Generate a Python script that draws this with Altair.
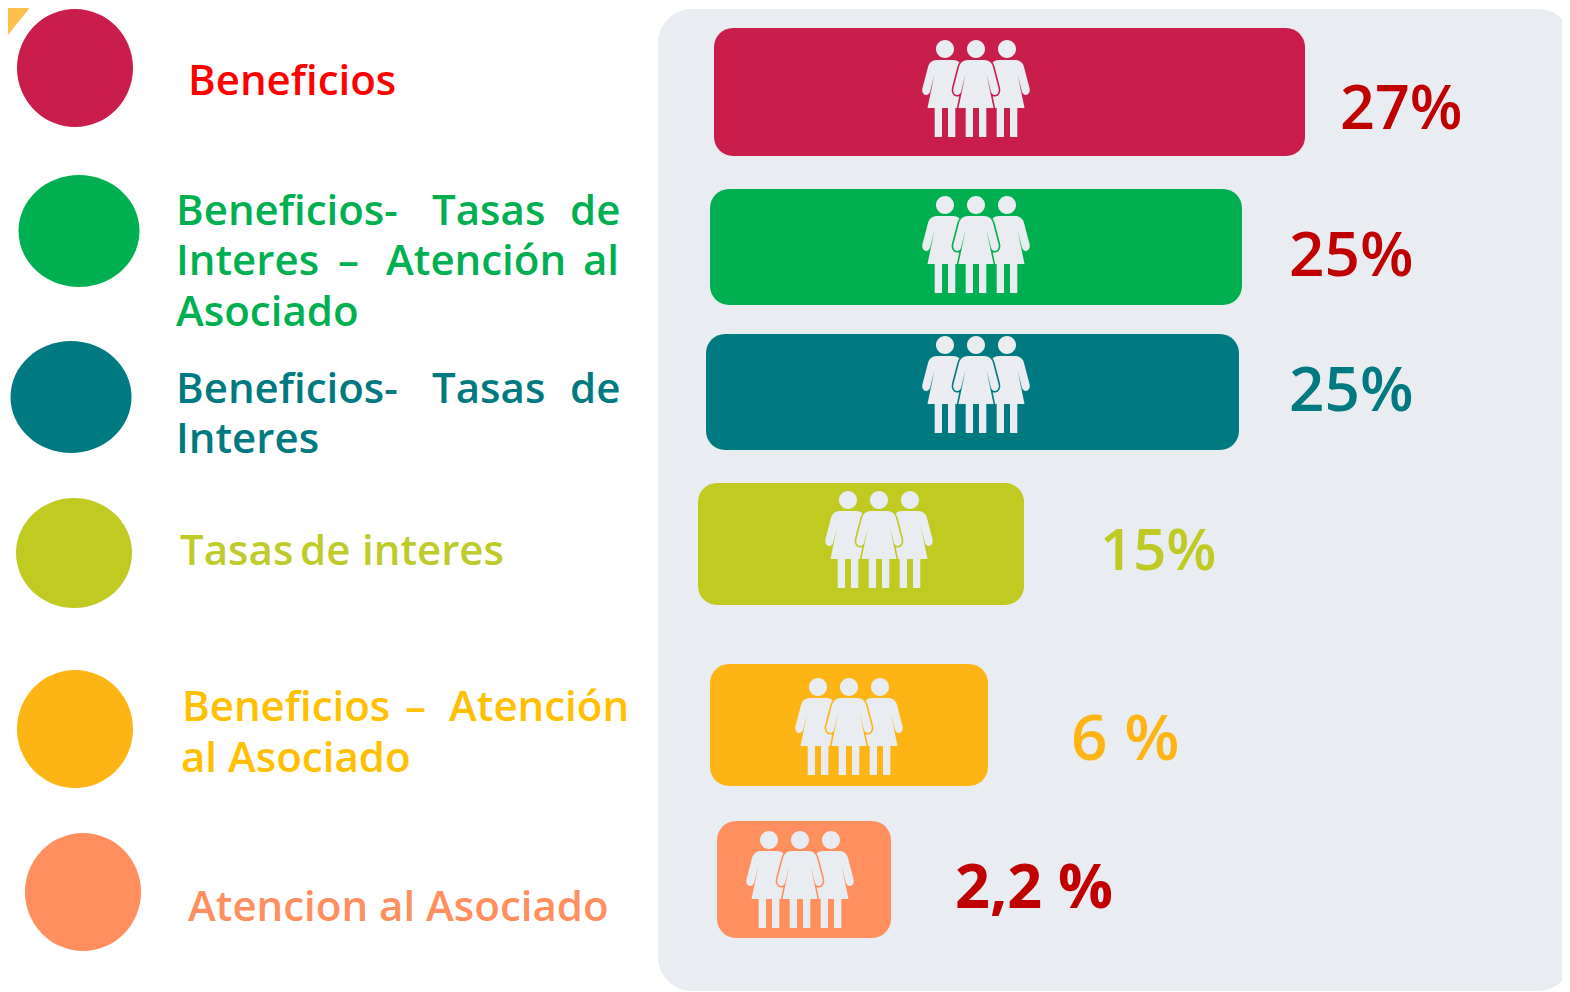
import altair as alt
import pandas as pd

# categories and read-off values
categories = ["Beneficios", "Ben-Tas-Ate", "Ben-Tas", "Tasas", "Ben-Ate", "Ate"]
bar_start = [714, 710, 706, 698, 710, 717]
bar_end = [1305, 1242, 1239, 1024, 988, 891]
bar_top = [28, 189, 334, 483, 664, 821]
bar_bottom = [156, 305, 450, 605, 786, 938]
icon_x = [976, 976, 976, 879, 849, 800]
icon_y = [89, 245, 385, 540, 727, 880]
colors = ["#C91D4B", "#00B050", "#007A80", "#C0CA20", "#FDB515", "#FF8F5E"]

dot_x = [75, 79, 71, 74, 75, 83]
dot_y = [68, 231, 397, 553, 729, 892]
dot_w = [116, 121, 121, 116, 116, 116]
dot_h = [118, 112, 112, 110, 118, 118]

value_labels = ["27%", "25%", "25%", "15%", "6 %", "2,2 %"]
value_x = [1340, 1289, 1289, 1100, 1071, 955]
value_y = [129, 276, 411, 570, 760, 908]
value_sizes = [61, 62, 62, 58, 64, 61]
value_colors = ["#C00000", "#C00000", "#007A80", "#BFCA25", "#FDB515", "#C00000"]

words = ["Beneficios", "Beneficios-", "Tasas", "de", "Interes", "\u2013", "Atención", "al", "Asociado",
         "Beneficios-", "Tasas", "de", "Interes", "Tasas", "de", "interes",
         "Beneficios", "\u2013", "Atención", "al Asociado", "Atencion al Asociado"]
word_x = [188, 176, 432, 570, 176, 338, 386, 583, 176,
          176, 432, 570, 176, 180, 300, 362,
          182, 405, 449, 181, 188]
word_y = [95, 225, 225, 225, 275, 275, 275, 275, 326,
          403, 403, 403, 453, 565, 565, 565,
          721, 721, 721, 772, 921]
word_colors = ["#FF0000"] + ["#00B050"] * 8 + ["#007A80"] * 4 + ["#BFCB2A"] * 3 + ["#FFC000"] * 4 + ["#FF8F5E"]

PANEL = "#E9EDF1"
X = alt.Scale(domain=[8, 1562], nice=False, zero=False)
Y = alt.Scale(domain=[8, 992], nice=False, zero=False, reverse=True)
xq = lambda f: alt.X(f, type="quantitative", scale=X, axis=None)
yq = lambda f: alt.Y(f, type="quantitative", scale=Y, axis=None)
cat_color = alt.Scale(domain=categories, range=colors)

HEAD = "M-9,-40A9,9 0 1,1 9,-40A9,9 0 1,1 -9,-40Z"
BODY = ("M-8,-29L8,-29C13,-29 16,-26 17,-22L22.5,-1C23.5,3 21.5,6 19,6C17,6 16,5 15,3L10.5,-15"
        "L17.5,19L10.3,19L10.3,48L3,48L3,19L-3,19L-3,48L-10.3,48L-10.3,19L-17.5,19L-10.5,-15"
        "L-15,3C-16,5 -17,6 -19,6C-21.5,6 -23.5,3 -22.5,-1L-17,-22C-16,-26 -13,-29 -8,-29Z")
FIGURE = HEAD + BODY


def ellipse(w, h):
    rx, ry = w / 2, h / 2
    return f"M{-rx},0A{rx},{ry} 0 1,1 {rx},0A{rx},{ry} 0 1,1 {-rx},0Z"


rows = pd.DataFrame({"cat": categories, "x0": bar_start, "x1": bar_end, "y0": bar_top, "y1": bar_bottom,
                     "ix": icon_x, "iy": icon_y, "dx": dot_x, "dy": dot_y,
                     "dpath": [ellipse(w, h) for w, h in zip(dot_w, dot_h)],
                     "val": value_labels, "vx": value_x, "vy": value_y, "vs": value_sizes, "vc": value_colors})
rows["ixl"] = rows.ix - 31
rows["ixr"] = rows.ix + 31

panel = alt.Chart(pd.DataFrame({"x0": [658], "x1": [1572], "y0": [9], "y1": [991]})).mark_bar(
    color=PANEL, cornerRadius=34, clip=True
).encode(x=xq("x0"), x2="x1", y=yq("y0"), y2="y1")

corner = alt.Chart(pd.DataFrame({"x": [8], "y": [8]})).mark_point(
    shape="M0,0L21.6,0L0,27Z", size=4, filled=True, opacity=1, color="#FDC04D", strokeWidth=0
).encode(x=xq("x"), y=yq("y"))

base = alt.Chart(rows)
bars = base.mark_bar(cornerRadius=19).encode(
    x=xq("x0"), x2="x1", y=yq("y0"), y2="y1",
    color=alt.Color("cat:N", scale=cat_color, legend=None))

fig = dict(shape=FIGURE, size=4, filled=True, opacity=1, strokeWidth=0, fill=PANEL)
side_l = base.mark_point(**fig).encode(x=xq("ixl"), y=yq("iy"))
side_r = base.mark_point(**fig).encode(x=xq("ixr"), y=yq("iy"))
outline = base.mark_point(shape=BODY, size=4, filled=False, opacity=1, strokeWidth=3.2).encode(
    x=xq("ix"), y=yq("iy"), stroke=alt.Stroke("cat:N", scale=cat_color, legend=None))
center = base.mark_point(**fig).encode(x=xq("ix"), y=yq("iy"))

dots = base.mark_point(size=4, filled=True, opacity=1, strokeWidth=0).encode(
    x=xq("dx"), y=yq("dy"), shape=alt.Shape("dpath:N", scale=None),
    color=alt.Color("cat:N", scale=cat_color, legend=None))

values = base.transform_filter(alt.datum.val != "2,2 %").mark_text(
    align="left", baseline="alphabetic", font="Open Sans", fontWeight=600
).encode(x=xq("vx"), y=yq("vy"), text="val:N", size=alt.Size("vs:Q", scale=None),
         color=alt.Color("vc:N", scale=None))
value_bold = base.transform_filter(alt.datum.val == "2,2 %").mark_text(
    align="left", baseline="alphabetic", font="Open Sans", fontWeight=700
).encode(x=xq("vx"), y=yq("vy"), text="val:N", size=alt.Size("vs:Q", scale=None),
         color=alt.Color("vc:N", scale=None))

labels = alt.Chart(pd.DataFrame({"w": words, "x": word_x, "y": word_y, "c": word_colors})).mark_text(
    align="left", baseline="alphabetic", font="Open Sans", fontSize=42, fontWeight=600
).encode(x=xq("x"), y=yq("y"), text="w:N", color=alt.Color("c:N", scale=None))

chart = alt.layer(panel, corner, bars, side_l, side_r, outline, center, dots, values, value_bold, labels).properties(
    width=1554, height=984, padding=0, autosize=alt.AutoSizeParams(type="none"), background="white"
).configure_view(stroke=None)

chart.save("out.html", embed_options={"renderer": "svg", "actions": False})
